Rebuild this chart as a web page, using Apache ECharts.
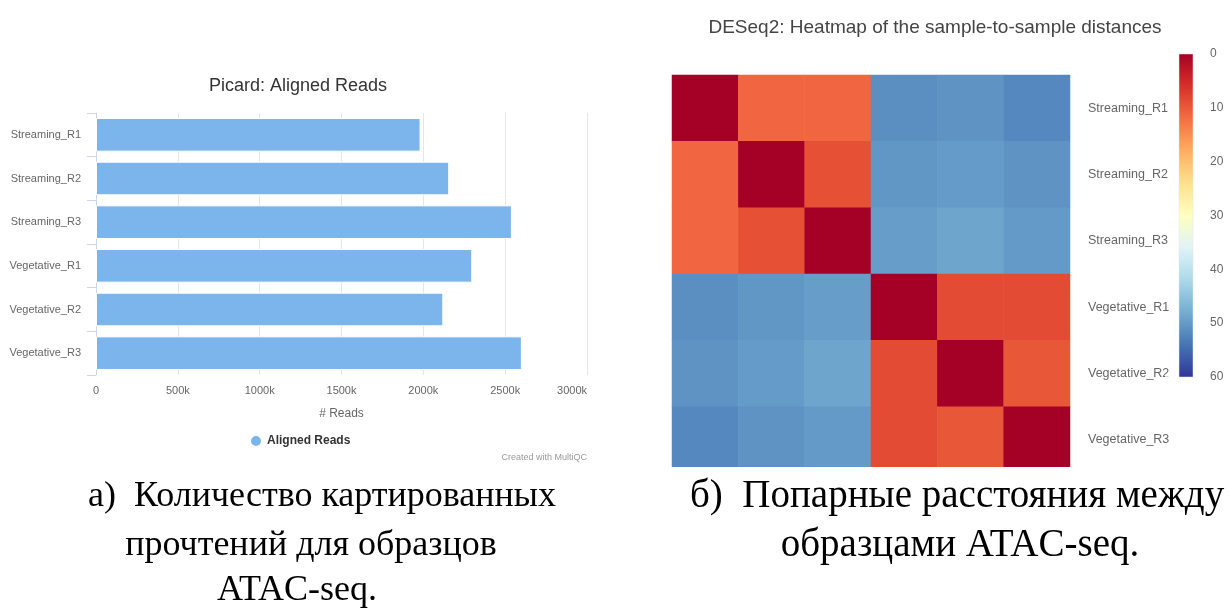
<!DOCTYPE html>
<html>
<head>
<meta charset="utf-8">
<title>ATAC-seq QC</title>
<script src="https://cdn.jsdelivr.net/npm/echarts@6/dist/echarts.min.js"></script>
<style>
  html, body { margin: 0; padding: 0; background: #ffffff; }
  #chart { width: 1229px; height: 610px; }
</style>
</head>
<body>
<div id="chart"></div>
<script>
// Sample names shared by both panels
const SAMPLES = ['Streaming_R1', 'Streaming_R2', 'Streaming_R3', 'Vegetative_R1', 'Vegetative_R2', 'Vegetative_R3'];

// Picard: number of aligned reads per sample
const ALIGNED_READS = [1983000, 2158000, 2541000, 2299000, 2122000, 2602000];

// DESeq2: sample-to-sample distance matrix (rows/cols follow SAMPLES)
const DIST_S1 = [0.0, 11.3, 11.3, 51.2, 50.8, 52.0];
const DIST_S2 = [11.3, 0.0, 9.1, 50.4, 49.9, 50.8];
const DIST_S3 = [11.3, 9.1, 0.0, 49.6, 48.9, 50.0];
const DIST_V1 = [51.2, 50.4, 49.6, 0.0, 8.7, 8.7];
const DIST_V2 = [50.8, 49.9, 48.9, 8.7, 0.0, 9.8];
const DIST_V3 = [52.0, 50.8, 50.0, 8.7, 9.8, 0.0];
const DISTANCES = [DIST_S1, DIST_S2, DIST_S3, DIST_V1, DIST_V2, DIST_V3];

// Distance colour scale (RdYlBu, reversed) and its range
const DIST_RANGE = [0, 60];
const DIST_COLORS = ['#a50026', '#d73027', '#f46d43', '#fdae61', '#fee090', '#ffffbf',
                     '#e0f3f8', '#abd9e9', '#74add1', '#4575b4', '#313695'];

const SANS = '"Liberation Sans", Arial, Helvetica, sans-serif';
const SERIF = '"Liberation Serif", "Times New Roman", serif';

const heatData = [];
DISTANCES.forEach((row, r) => row.forEach((v, c) => heatData.push([c, r, v])));

const chart = echarts.init(document.getElementById('chart'), null, { renderer: 'canvas' });

chart.setOption({
  backgroundColor: '#ffffff',
  animation: false,
  textStyle: { fontFamily: SANS },
  title: [
    {
      text: 'Picard: Aligned Reads',
      left: 298, top: 77, textAlign: 'center', padding: 0,
      textStyle: { fontFamily: SANS, fontSize: 18, fontWeight: 'normal', color: '#333333' }
    },
    {
      text: 'DESeq2: Heatmap of the sample-to-sample distances',
      left: 935, top: 18, textAlign: 'center', padding: 0,
      textStyle: { fontFamily: SANS, fontSize: 19, fontWeight: 'normal', color: '#444444' }
    }
  ],
  legend: {
    data: ['Aligned Reads'],
    icon: 'circle',
    left: 249, top: 434, padding: 0,
    itemWidth: 12, itemHeight: 12,
    selectedMode: false,
    textStyle: { fontFamily: SANS, fontSize: 12, fontWeight: 'bold', color: '#333333' }
  },
  grid: [
    { left: 96, top: 113, width: 491, height: 262 },
    { left: 672, top: 75, width: 398, height: 398 },
    { left: 1179, top: 54, width: 14, height: 323 }
  ],
  xAxis: [
    {
      gridIndex: 0, type: 'value', min: 0, max: 3000000, interval: 500000,
      axisLine: { show: false }, axisTick: { show: false },
      splitLine: { show: true, lineStyle: { color: '#e6e6e6', width: 1 } },
      axisLabel: {
        color: '#666666', fontSize: 11, fontFamily: SANS, margin: 10,
        alignMaxLabel: 'right',
        formatter: v => v === 0 ? '0' : (v / 1000) + 'k'
      },
      name: '# Reads', nameLocation: 'middle', nameGap: 33,
      nameTextStyle: { color: '#666666', fontSize: 12, fontFamily: SANS }
    },
    { gridIndex: 1, type: 'category', data: SAMPLES, show: false },
    { gridIndex: 2, type: 'value', min: 0, max: 1, show: false }
  ],
  yAxis: [
    {
      gridIndex: 0, type: 'category', data: SAMPLES, inverse: true,
      axisLine: { show: true, lineStyle: { color: '#ccd6eb', width: 1 } },
      axisTick: { show: true, length: 9, interval: 0, lineStyle: { color: '#ccd6eb' } },
      splitLine: { show: false },
      axisLabel: { color: '#666666', fontSize: 11, fontFamily: SANS, margin: 15, interval: 0 }
    },
    {
      gridIndex: 1, type: 'category', data: SAMPLES, inverse: true, position: 'right',
      axisLine: { show: false }, axisTick: { show: false }, splitLine: { show: false },
      axisLabel: { color: '#666666', fontSize: 12.5, fontFamily: SANS, margin: 18, interval: 0 }
    },
    {
      gridIndex: 2, type: 'value', min: DIST_RANGE[0], max: DIST_RANGE[1], interval: 10,
      inverse: true, position: 'right', z: 5,
      axisLine: { show: false },
      axisTick: { show: true, inside: true, length: 14, lineStyle: { color: '#ffffff', width: 1.5 } },
      splitLine: { show: false },
      axisLabel: { color: '#666666', fontSize: 12, fontFamily: SANS, margin: 17 }
    }
  ],
  visualMap: {
    type: 'continuous', show: false, seriesIndex: 1, dimension: 2,
    min: DIST_RANGE[0], max: DIST_RANGE[1],
    inRange: { color: DIST_COLORS }
  },
  series: [
    {
      name: 'Aligned Reads', type: 'bar', xAxisIndex: 0, yAxisIndex: 0,
      data: ALIGNED_READS, barCategoryGap: '23%',
      itemStyle: { color: '#7cb5ec', borderColor: '#ffffff', borderWidth: 1 },
      emphasis: { disabled: true }
    },
    {
      name: 'distance', type: 'heatmap', xAxisIndex: 1, yAxisIndex: 1,
      data: heatData,
      itemStyle: { borderWidth: 0 },
      emphasis: { disabled: true }
    },
    {
      name: 'colorbar', type: 'custom', xAxisIndex: 2, yAxisIndex: 2,
      data: [[0.5, DIST_RANGE[0], DIST_RANGE[1]]],
      encode: { x: 0, y: [1, 2] },
      silent: true,
      renderItem: (params, api) => {
        const cs = params.coordSys;
        const y0 = api.coord([0.5, api.value(1)])[1];
        const y1 = api.coord([0.5, api.value(2)])[1];
        const stops = DIST_COLORS.map((c, i) => ({ offset: i / (DIST_COLORS.length - 1), color: c }));
        return {
          type: 'rect',
          shape: { x: cs.x, y: y0, width: cs.width, height: y1 - y0 },
          style: { fill: new echarts.graphic.LinearGradient(0, 0, 0, 1, stops), stroke: '#e4e4e4', lineWidth: 0.5 }
        };
      }
    }
  ],
  graphic: [
    // heatmap panel is trimmed just above its caption
    { type: 'rect', z: 100, shape: { x: 660, y: 467, width: 430, height: 14 }, style: { fill: '#ffffff' } },
    {
      type: 'text', z: 101, x: 587, y: 458,
      style: { text: 'Created with MultiQC', font: '9px ' + SANS, fill: '#999999', textAlign: 'right', textVerticalAlign: 'middle' }
    },
    {
      type: 'text', z: 101, x: 88, y: 497,
      style: { text: 'а)  Количество картированных', font: '36px ' + SERIF, fill: '#000000', textAlign: 'left', textVerticalAlign: 'middle' }
    },
    {
      type: 'text', z: 101, x: 311, y: 546,
      style: { text: 'прочтений для образцов', font: '36px ' + SERIF, fill: '#000000', textAlign: 'center', textVerticalAlign: 'middle' }
    },
    {
      type: 'text', z: 101, x: 297, y: 591,
      style: { text: 'ATAC-seq.', font: '36px ' + SERIF, fill: '#000000', textAlign: 'center', textVerticalAlign: 'middle' }
    },
    {
      type: 'text', z: 101, x: 690, y: 497,
      style: { text: 'б)  Попарные расстояния между', font: '39px ' + SERIF, fill: '#000000', textAlign: 'left', textVerticalAlign: 'middle' }
    },
    {
      type: 'text', z: 101, x: 960, y: 546,
      style: { text: 'образцами ATAC-seq.', font: '39px ' + SERIF, fill: '#000000', textAlign: 'center', textVerticalAlign: 'middle' }
    }
  ]
});
</script>
</body>
</html>
